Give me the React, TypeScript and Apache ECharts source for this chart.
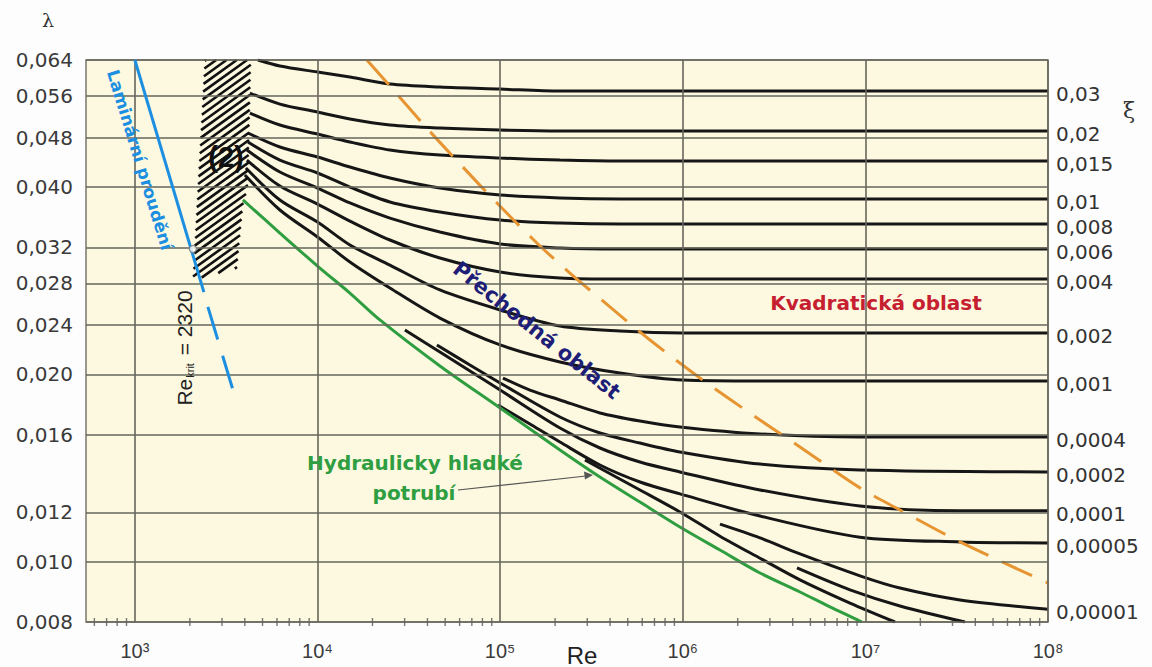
import React, { useEffect, useRef } from 'react';
import * as echarts from 'echarts';

// ---------- axis ticks ----------
const reTicks = [1e3, 1e4, 1e5, 1e6, 1e7, 1e8];
const reTickLabels = ['10³', '10⁴', '10⁵', '10⁶', '10⁷', '10⁸'];
const lambdaTicks = [0.008, 0.01, 0.012, 0.016, 0.02, 0.024, 0.028, 0.032, 0.04, 0.048, 0.056, 0.064];
const lambdaTickLabels = ['0,008', '0,010', '0,012', '0,016', '0,020', '0,024', '0,028', '0,032', '0,040', '0,048', '0,056', '0,064'];
const minorTickMultipliers = [2, 3, 4, 5, 6, 7, 8, 9];
const minorTickDecades = [1e2, 1e3, 1e4, 1e5, 1e6, 1e7];
const RE_MIN = 540;
const RE_MAX = 1e8;
const LAMBDA_MIN = 0.008;
const LAMBDA_MAX = 0.064;

// ---------- curves [Re, lambda] ----------
const curve_0_03: number[][] = [[4717, 0.064], [6226, 0.06259], [10000, 0.06121], [15050, 0.06008], [24920, 0.05855], [46810, 0.0579], [100000, 0.05747], [212600, 0.05705], [1e8, 0.05705]];
const curve_0_02: number[][] = [[4265, 0.05663], [6226, 0.05437], [10000, 0.05279], [15050, 0.05143], [24920, 0.05032], [46810, 0.04976], [100000, 0.04939], [212600, 0.04921], [1e8, 0.04921]];
const curve_0_015: number[][] = [[4265, 0.05259], [6226, 0.05032], [10000, 0.04867], [15050, 0.04725], [24920, 0.04587], [46810, 0.04502], [100000, 0.04453], [212600, 0.0442], [453200, 0.04404], [1e8, 0.04404]];
const curve_0_01: number[][] = [[4158, 0.04885], [6226, 0.04638], [10000, 0.04469], [15050, 0.04307], [24920, 0.04135], [46810, 0.03985], [100000, 0.03884], [212600, 0.03841], [453200, 0.03827], [1e8, 0.03827]];
const curve_0_008: number[][] = [[4158, 0.04725], [6226, 0.0442], [10000, 0.04213], [15050, 0.04], [24920, 0.03785], [46810, 0.03647], [100000, 0.0354], [212600, 0.03501], [453200, 0.03488], [1e8, 0.03488]];
const curve_0_006: number[][] = [[4106, 0.04587], [6226, 0.04228], [10000, 0.03985], [15050, 0.03771], [24920, 0.03566], [46810, 0.03386], [100000, 0.0324], [212600, 0.03192], [453200, 0.0318], [1e8, 0.0318]];
const curve_0_004: number[][] = [[4106, 0.0442], [6226, 0.04015], [10000, 0.03756], [15050, 0.03527], [24920, 0.03288], [46810, 0.03076], [100000, 0.02921], [212600, 0.02857], [453200, 0.02846], [1e8, 0.02846]];
const curve_0_002: number[][] = [[4055, 0.04291], [6226, 0.03813], [10000, 0.03514], [15050, 0.03228], [24920, 0.02997], [46810, 0.02733], [100000, 0.02538], [212600, 0.02391], [453200, 0.02348], [1000000, 0.02331], [1e8, 0.02331]];
const curve_0_001: number[][] = [[4004, 0.04182], [6226, 0.03674], [10000, 0.03325], [15050, 0.03031], [24920, 0.02753], [46810, 0.02463], [100000, 0.0223], [212600, 0.02094], [453200, 0.0201], [1000000, 0.01958], [2648000, 0.01951], [1e8, 0.01951]];
const curve_0_0004: number[][] = [[103600, 0.01973], [145600, 0.01887], [212600, 0.01819], [352000, 0.01734], [583100, 0.01683], [965400, 0.01646], [2648000, 0.01604], [9342000, 0.01586], [1e8, 0.01586]];
const curve_0_0002: number[][] = [[45070, 0.0223], [68320, 0.0207], [100000, 0.01937], [212600, 0.01708], [352000, 0.0161], [583100, 0.01551], [965400, 0.01501], [2648000, 0.01435], [9342000, 0.01404], [1e8, 0.01394]];
const curve_0_0001: number[][] = [[30100, 0.02357], [46810, 0.02172], [100000, 0.01887], [212600, 0.0164], [352000, 0.01523], [583100, 0.01446], [965400, 0.01394], [2648000, 0.01304], [9342000, 0.01229], [32970000, 0.01207], [1e8, 0.01207]];
const curve_0_00005: number[][] = [[97280, 0.01786], [145600, 0.01664], [212600, 0.01557], [352000, 0.0143], [583100, 0.01343], [965400, 0.01285], [2648000, 0.01184], [9342000, 0.01095], [32970000, 0.01076], [1e8, 0.01072]];
const curve_0_00001: number[][] = [[1599000, 0.01149], [2648000, 0.01092], [4384000, 0.01029], [9342000, 0.00949], [15470000, 0.00907], [32970000, 0.00868], [1e8, 0.00839]];
const curveNearSmoothA: number[][] = [[291300, 0.01457], [583100, 0.01304], [965400, 0.01202], [1599000, 0.01099], [2648000, 0.01013], [4384000, 0.00935], [8237000, 0.00858], [14530000, 0.008]];
const curveNearSmoothB: number[][] = [[4222000, 0.00977], [8237000, 0.00901], [15470000, 0.00849], [35100000, 0.008]];
const smoothPipe: number[][] = [[3905, 0.03813], [6226, 0.03374], [10000, 0.02986], [15050, 0.02702], [21970, 0.02446], [46810, 0.02063], [100000, 0.01766], [212600, 0.01512], [352000, 0.01368], [583100, 0.01247], [965400, 0.01137], [1599000, 0.01044], [2648000, 0.00959], [4384000, 0.00894], [6400000, 0.00846], [9580000, 0.008]];
const laminarSolid: number[][] = [[1000, 0.064], [2387, 0.02712]];
const laminarDashed: number[][] = [[2511, 0.02567], [3485, 0.01866]];
const reCritPoint: number[][] = [[2078, 0.0318]];
const quadraticBoundary: number[][] = [[18640, 0.064], [24920, 0.05811], [38750, 0.05013], [61770, 0.04323], [97280, 0.03756], [161100, 0.0324], [241200, 0.0291], [399300, 0.02567], [661400, 0.02271], [1243000, 0.01973], [2648000, 0.01689], [4384000, 0.01529], [9342000, 0.01314], [15470000, 0.01211], [32970000, 0.01076], [1e8, 0.00924]];
const transitionZone: number[][] = [[2416, 0.064], [4319, 0.064], [4158, 0.04], [3905, 0.03742], [3620, 0.02964], [2078, 0.02835]];

const roughnessCurves = [
  { label: '0,03', data: curve_0_03 },
  { label: '0,02', data: curve_0_02 },
  { label: '0,015', data: curve_0_015 },
  { label: '0,01', data: curve_0_01 },
  { label: '0,008', data: curve_0_008 },
  { label: '0,006', data: curve_0_006 },
  { label: '0,004', data: curve_0_004 },
  { label: '0,002', data: curve_0_002 },
  { label: '0,001', data: curve_0_001 },
  { label: '0,0004', data: curve_0_0004 },
  { label: '0,0002', data: curve_0_0002 },
  { label: '0,0001', data: curve_0_0001 },
  { label: '0,00005', data: curve_0_00005 },
  { label: '0,00001', data: curve_0_00001 },
];
const unlabelledCurves = [curveNearSmoothA, curveNearSmoothB];

// ---------- styles ----------
const GRID_COLOR = '#66665c';
const CREAM = '#FCF9E0';
const BLACK = '#161616';
const GREEN = '#2F9E41';
const BLUE = '#1D8FE1';
const ORANGE = '#E69532';
const SANS = '"DejaVu Sans", sans-serif';
const ARIAL = '"Liberation Sans", Arial, sans-serif';

function clipLine(poly: number[][], p0: number[], d: number[]): number[] | null {
  const ts: number[] = [];
  for (let i = 0; i < poly.length; i++) {
    const a = poly[i];
    const b = poly[(i + 1) % poly.length];
    const ex = b[0] - a[0];
    const ey = b[1] - a[1];
    const den = d[0] * ey - d[1] * ex;
    if (Math.abs(den) < 1e-9) continue;
    const wx = a[0] - p0[0];
    const wy = a[1] - p0[1];
    const t = (wx * ey - wy * ex) / den;
    const s = (wx * d[1] - wy * d[0]) / den;
    if (s >= 0 && s <= 1) ts.push(t);
  }
  if (ts.length < 2) return null;
  return [Math.min(...ts), Math.max(...ts)];
}

function buildOption(): any {
  const minorTicks: number[][] = [];
  minorTickDecades.forEach((dec) => {
    minorTickMultipliers.forEach((m) => {
      const v = dec * m;
      if (v > RE_MIN && v < RE_MAX) minorTicks.push([v, LAMBDA_MIN]);
    });
  });

  const gridLineData: any[] = [];
  lambdaTicks.forEach((v, i) => {
    gridLineData.push({
      yAxis: v,
      label: {
        show: true, position: 'start', formatter: lambdaTickLabels[i], distance: 13,
        color: '#3a3a3a', fontSize: 20, fontFamily: SANS,
      },
    });
  });
  reTicks.forEach((v, i) => {
    gridLineData.push({
      xAxis: v,
      label: {
        show: true, position: 'start', formatter: reTickLabels[i], distance: 19,
        color: '#3a3a3a', fontSize: 20, fontFamily: ARIAL,
      },
    });
  });

  const series: any[] = [];

  series.push({
    type: 'scatter', name: 'grid', data: [[RE_MAX, LAMBDA_MAX]], symbolSize: 0, silent: true, z: 1,
    markLine: {
      silent: true, symbol: ['none', 'none'], animation: false, precision: 6,
      lineStyle: { color: GRID_COLOR, width: 1.6, type: 'solid' },
      emphasis: { disabled: true },
      data: gridLineData,
    },
  });

  series.push({
    type: 'scatter', name: 'minorTicks', data: minorTicks, symbol: 'rect', symbolSize: [1.4, 8],
    itemStyle: { color: '#555' }, silent: true, clip: false, z: 2,
  });

  series.push({
    type: 'custom', name: 'transition', coordinateSystem: 'cartesian2d', silent: true, z: 4,
    data: [[3000, 0.04]],
    renderItem: (_params: any, api: any) => {
      const poly = transitionZone.map((p) => api.coord(p));
      const xs = poly.map((p: number[]) => p[0]);
      const ys = poly.map((p: number[]) => p[1]);
      const minX = Math.min(...xs);
      const maxX = Math.max(...xs);
      const minY = Math.min(...ys);
      const maxY = Math.max(...ys);
      const slope = 0.72;
      const d = [1, -slope];
      const children: any[] = [];
      const span = (maxX - minX) * slope;
      for (let y0 = minY + 2; y0 < maxY + span; y0 += 7.4) {
        const seg = clipLine(poly, [minX, y0], d);
        if (!seg) continue;
        children.push({
          type: 'line',
          shape: {
            x1: minX + seg[0] * d[0], y1: y0 + seg[0] * d[1],
            x2: minX + seg[1] * d[0], y2: y0 + seg[1] * d[1],
          },
          style: { stroke: '#111', lineWidth: 2.6 },
        });
      }
      return { type: 'group', children };
    },
  });

  roughnessCurves.forEach((c) => {
    series.push({
      type: 'line', name: c.label, data: c.data, symbol: 'none', showSymbol: false,
      smooth: 0.3, silent: true, z: 3,
      lineStyle: { color: BLACK, width: 3 },
      endLabel: {
        show: true, formatter: c.label, distance: 8, offset: [0, 3],
        color: '#333', fontSize: 20, fontFamily: SANS,
      },
    });
  });
  unlabelledCurves.forEach((d, i) => {
    series.push({
      type: 'line', name: 'near-smooth-' + i, data: d, symbol: 'none', showSymbol: false,
      smooth: 0.3, silent: true, z: 3, lineStyle: { color: BLACK, width: 3 },
    });
  });

  series.push({
    type: 'line', name: 'Hydraulicky hladké potrubí', data: smoothPipe, symbol: 'none',
    smooth: 0.3, silent: true, z: 3, lineStyle: { color: GREEN, width: 3 },
  });
  series.push({
    type: 'line', name: 'Kvadratická hranice', data: quadraticBoundary, symbol: 'none',
    smooth: 0.3, silent: true, z: 3, lineStyle: { color: ORANGE, width: 3, type: [33, 15] },
  });
  series.push({
    type: 'line', name: 'Laminární', data: laminarSolid, symbol: 'none', silent: true, z: 5,
    lineStyle: { color: BLUE, width: 3 },
  });
  series.push({
    type: 'line', name: 'Laminární (čárkovaně)', data: laminarDashed, symbol: 'none', silent: true, z: 5,
    lineStyle: { color: BLUE, width: 3, type: [34, 17] },
  });
  series.push({
    type: 'scatter', name: 'Re krit', data: reCritPoint, symbol: 'circle', symbolSize: 7, silent: true, z: 6,
    itemStyle: { color: '#ffffff', borderColor: '#777', borderWidth: 1.3 },
  });

  const txt = (x: number, y: number, text: string, style: any, rotation = 0) => ({
    type: 'text', x, y, rotation, z: 100, silent: true,
    style: { text, align: 'center', verticalAlign: 'middle', ...style },
  });

  const graphic: any[] = [
    txt(48, 20, 'λ', { fontSize: 19, fontFamily: '"DejaVu Serif", serif', fill: '#333' }),
    txt(1129, 110, 'ξ', { fontSize: 22, fontFamily: '"DejaVu Serif", serif', fill: '#333' }),
    txt(140, 160, 'Laminární proudění', { fontSize: 17, fontWeight: 'bold', fontFamily: SANS, fill: BLUE }, -1.272),
    {
      type: 'text', x: 183, y: 348, rotation: Math.PI / 2, z: 100, silent: true,
      style: {
        text: '{a|Re}{b|krit}{a| = 2320}', align: 'center', verticalAlign: 'middle',
        rich: {
          a: { fontSize: 21, fontFamily: ARIAL, fill: '#222', verticalAlign: 'bottom', lineHeight: 24 },
          b: { fontSize: 11, fontFamily: ARIAL, fill: '#222', verticalAlign: 'bottom', lineHeight: 24, padding: [0, 2, 0, 1] },
        },
      },
    },
    txt(226, 157, '(2)', { fontSize: 29, fontWeight: 'bold', fontFamily: ARIAL, fill: '#111' }),
    txt(537, 330, 'Přechodná oblast', { fontSize: 21, fontWeight: 'bold', fontFamily: SANS, fill: '#1E1E78' }, -0.672),
    txt(876, 303, 'Kvadratická oblast', { fontSize: 20, fontWeight: 'bold', fontFamily: SANS, fill: '#C62030' }),
    txt(415, 463, 'Hydraulicky hladké', { fontSize: 20, fontWeight: 'bold', fontFamily: SANS, fill: GREEN }),
    txt(414, 493, 'potrubí', { fontSize: 20, fontWeight: 'bold', fontFamily: SANS, fill: GREEN }),
    txt(582, 655, 'Re', { fontSize: 24, fontFamily: ARIAL, fill: '#222' }),
    {
      type: 'line', z: 100, silent: true,
      shape: { x1: 458, y1: 490, x2: 586, y2: 476 },
      style: { stroke: '#555', lineWidth: 1.2 },
    },
    {
      type: 'polygon', z: 100, silent: true,
      shape: { points: [[593, 475], [584, 471.5], [585, 479.5]] },
      style: { fill: '#555' },
    },
  ];

  return {
    animation: false,
    backgroundColor: '#FDFDFD',
    grid: {
      left: 86, right: 104, top: 60, bottom: 45, show: true,
      backgroundColor: CREAM, borderColor: '#77776c', borderWidth: 1.5,
    },
    xAxis: {
      type: 'log', logBase: 10, min: RE_MIN, max: RE_MAX,
      axisLine: { show: false }, axisTick: { show: false }, axisLabel: { show: false }, splitLine: { show: false },
    },
    yAxis: {
      type: 'log', logBase: 10, min: LAMBDA_MIN, max: LAMBDA_MAX,
      axisLine: { show: false }, axisTick: { show: false }, axisLabel: { show: false }, splitLine: { show: false },
    },
    series,
    graphic,
  };
}

export default function App() {
  const ref = useRef<HTMLDivElement>(null);
  useEffect(() => {
    if (!ref.current) return;
    const chart = echarts.init(ref.current, null, { renderer: 'svg' });
    chart.setOption(buildOption());
    return () => chart.dispose();
  }, []);
  return (
    <div
      ref={ref}
      style={{ position: 'fixed', left: 0, top: 0, width: 1152, height: 667, background: '#FDFDFD' }}
    />
  );
}
